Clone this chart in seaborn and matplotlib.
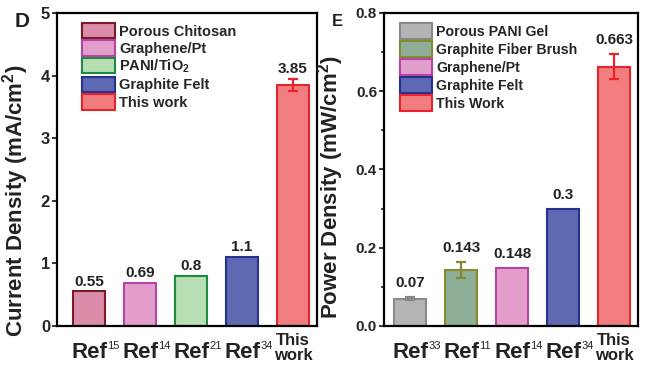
import matplotlib
matplotlib.use("Agg")
import matplotlib.pyplot as plt
import seaborn as sns
from matplotlib.patches import Patch

# Panel D: current density
d_names = ["Porous Chitosan", "Graphene/Pt", "PANI/TiO$_2$", "Graphite Felt", "This work"]
d_refs = ["15", "14", "21", "34", ""]
d_values = [0.55, 0.69, 0.8, 1.1, 3.85]
d_errors = [0, 0, 0, 0, 0.1]
d_texts = ["0.55", "0.69", "0.8", "1.1", "3.85"]
d_fill = ["#DB8CA9", "#E39DCB", "#B8DFB3", "#5F68B2", "#F27D7F"]
d_edge = ["#7A1C24", "#B444A8", "#1F8A40", "#26308E", "#E8232E"]

# Panel E: power density
e_names = ["Porous PANI Gel", "Graphite Fiber Brush", "Graphene/Pt", "Graphite Felt", "This Work"]
e_refs = ["33", "11", "14", "34", ""]
e_values = [0.07, 0.143, 0.148, 0.3, 0.663]
e_errors = [0.005, 0.02, 0, 0, 0.032]
e_texts = ["0.07", "0.143", "0.148", "0.3", "0.663"]
e_fill = ["#B4B4B4", "#8FAE98", "#E39DCB", "#5F68B2", "#F27D7F"]
e_edge = ["#898989", "#868A2E", "#B444A8", "#26308E", "#E8232E"]

sns.set_theme(style="ticks")
plt.rcParams["font.family"] = ["Liberation Sans", "DejaVu Sans"]
plt.rcParams["font.weight"] = "bold"
plt.rcParams["mathtext.fontset"] = "custom"
plt.rcParams["mathtext.rm"] = "Liberation Sans:bold"
plt.rcParams["mathtext.it"] = "Liberation Sans:bold"
plt.rcParams["mathtext.bf"] = "Liberation Sans:bold"

fig = plt.figure(figsize=(6.7, 3.88), dpi=100)
ax1 = fig.add_axes([57 / 670, 0.16, 260 / 670, 313 / 388])
ax2 = fig.add_axes([384 / 670, 0.16, 254 / 670, 313 / 388])


def panel(ax, names, refs, values, errors, texts, fill, edge, ylim, yticks,
          ylabel, text_off, tick_fs, leg_fs, leg_anchor, leg_hh, leg_ls):
    sns.barplot(x=names, y=values, hue=names, palette=dict(zip(names, fill)),
                order=names, hue_order=names, dodge=False, width=0.63,
                saturation=1, legend=False, ax=ax)
    bars = sorted(ax.patches, key=lambda p: p.get_x())
    for bar, ec in zip(bars, edge):
        bar.set_edgecolor(ec)
        bar.set_linewidth(1.5)
    for i, (v, e) in enumerate(zip(values, errors)):
        if e > 0:
            ax.errorbar(i, v, yerr=e, fmt="none", ecolor=edge[i],
                        elinewidth=1.6, capsize=3.5, capthick=1.6)
        ax.annotate(texts[i], xy=(i, v + e), xytext=(0, text_off),
                    textcoords="offset points", ha="center", va="bottom",
                    fontsize=11, fontweight="bold", color="#222222")
    ax.set_ylim(*ylim)
    ax.set_yticks(yticks)
    ax.set_xticks(range(len(names)))
    ax.set_xticklabels([""] * len(names))
    ax.tick_params(axis="x", length=0)
    ax.tick_params(axis="y", direction="out", length=3.5, width=1.3,
                   labelsize=tick_fs, pad=1.5)
    for lab in ax.get_yticklabels():
        lab.set_fontweight("bold")
    for s in ax.spines.values():
        s.set_visible(True)
        s.set_linewidth(1.6)
        s.set_color("black")
    for i, r in enumerate(refs):
        if r:
            ax.annotate("Ref", xy=(i, 0), xycoords=("data", "axes fraction"),
                        xytext=(0, -11.5), textcoords="offset points",
                        ha="center", va="top", fontsize=16, fontweight="bold",
                        color="#222222")
            ax.annotate(r, xy=(i, 0), xycoords=("data", "axes fraction"),
                        xytext=(13, -11), textcoords="offset points",
                        ha="left", va="top", fontsize=8, fontweight="normal",
                        color="#222222")
        else:
            ax.annotate("This\nwork", xy=(i, 0), xycoords=("data", "axes fraction"),
                        xytext=(0, -5), textcoords="offset points",
                        ha="center", va="top", fontsize=12, fontweight="bold",
                        linespacing=1.05, color="#222222")
    ax.set_xlabel("")
    ax.set_ylabel(ylabel, fontsize=16, fontweight="bold", color="#222222")
    handles = [Patch(facecolor=f, edgecolor=ec, linewidth=1.5) for f, ec in zip(fill, edge)]
    ax.legend(handles, names, loc="upper left", bbox_to_anchor=leg_anchor,
              frameon=False, borderpad=0, borderaxespad=0,
              handlelength=2.25, handleheight=leg_hh, labelspacing=leg_ls,
              handletextpad=0.3, prop={"weight": "bold", "size": leg_fs})


panel(ax1, d_names, d_refs, d_values, d_errors, d_texts, d_fill, d_edge,
      (0, 5), [0, 1, 2, 3, 4, 5], "Current Density (mA/cm$^2$)", 2,
      12, 10.5, (0.096, 0.968), 1.25, 0.12)
ax1.set_xlim(-0.63, 4.47)
ax1.yaxis.set_label_coords(-0.1, 0.40)

panel(ax2, e_names, e_refs, e_values, e_errors, e_texts, e_fill, e_edge,
      (0, 0.8), [0.0, 0.2, 0.4, 0.6, 0.8], "Power Density (mW/cm$^2$)", 5,
      11, 10.2, (0.063, 0.968), 1.35, 0.15)
ax2.set_xlim(-0.51, 4.47)
ax2.set_yticks([0.1, 0.3, 0.5, 0.7], minor=True)
ax2.tick_params(axis="y", which="minor", direction="out", length=2.5, width=1.2)
ax2.yaxis.set_major_formatter(matplotlib.ticker.FormatStrFormatter("%.1f"))
ax2.yaxis.set_label_coords(-0.15, 0.444)

fig.text(22 / 670, 1 - 21.5 / 388, "D", fontsize=15, fontweight="bold",
         ha="center", va="center", color="#222222")
fig.text(337.5 / 670, 1 - 22 / 388, "E", fontsize=12, fontweight="bold",
         ha="center", va="center", color="#222222")

fig.savefig("out.png", dpi=100)
